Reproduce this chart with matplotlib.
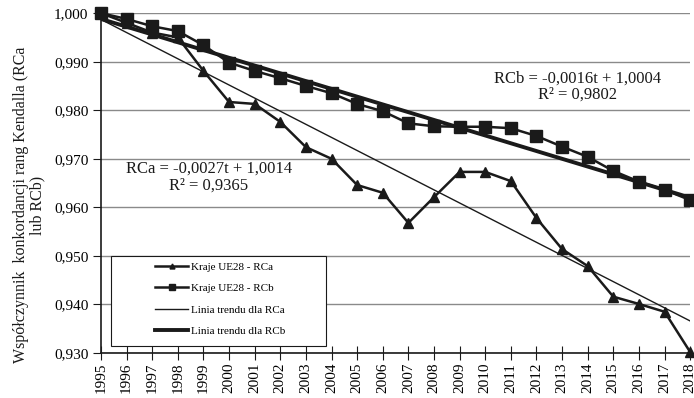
import numpy as np
import matplotlib
matplotlib.use('Agg')
import matplotlib.pyplot as plt
from matplotlib.patches import Rectangle
from matplotlib.ticker import FuncFormatter

plt.rcParams['font.family'] = ['Liberation Serif', 'DejaVu Serif']

years = list(range(1995, 2019))
rca = [1.000, 0.998, 0.996, 0.995, 0.9881, 0.9817, 0.9813, 0.9776, 0.9724, 0.9700,
       0.9646, 0.9630, 0.9568, 0.9621, 0.9673, 0.9673, 0.9654, 0.9578, 0.9514, 0.9479,
       0.9416, 0.9401, 0.9385, 0.9302]
rcb = [1.000, 0.9988, 0.9973, 0.9963, 0.9934, 0.9898, 0.9881, 0.9866, 0.9850, 0.9835,
       0.9813, 0.9798, 0.9773, 0.9767, 0.9766, 0.9766, 0.9763, 0.9747, 0.9725, 0.9704,
       0.9675, 0.9653, 0.9636, 0.9615]

# trend coefficients (t = 1 for 1995)
rca_slope, rca_icpt, rca_r2 = -0.0027, 1.0014, 0.9365
rcb_slope, rcb_icpt, rcb_r2 = -0.0016, 1.0004, 0.9802

y_ticks = [0.930, 0.940, 0.950, 0.960, 0.970, 0.980, 0.990, 1.000]

t = np.arange(1, len(years) + 1)
trend_a = rca_slope * t + rca_icpt
trend_b = rcb_slope * t + rcb_icpt

fig = plt.figure(figsize=(6.94, 3.98), dpi=100)
ax = fig.add_axes([0.1455, 0.113, 0.849, 0.854])

ink = '#1a1a1a'
for y in y_ticks:
    ax.axhline(y, color='#8a8a8a', linewidth=1.0, zorder=0)

ax.plot(years, rca, color=ink, linewidth=1.8, marker='^', markersize=6.5,
        label='Kraje UE28 - RCa', zorder=4, clip_on=False)
ax.plot(years, rcb, color=ink, linewidth=1.8, marker='s', markersize=8.5,
        label='Kraje UE28 - RCb', zorder=4, clip_on=False)
ax.plot(years, trend_a, color=ink, linewidth=1.0, label='Linia trendu dla RCa', zorder=3)
ax.plot(years, trend_b, color=ink, linewidth=2.8, label='Linia trendu dla RCb', zorder=3)

fmt = lambda v: str(v).replace('.', ',')
ax.text(2013.6, 0.9849, f'RCb = {fmt(rcb_slope)}t + {fmt(rcb_icpt)}\nR² = {fmt(rcb_r2)}',
        ha='center', va='center', fontsize=12, color=ink, linespacing=1.05)
ax.text(1999.2, 0.9662, f'RCa = {fmt(rca_slope)}t + {fmt(rca_icpt)}\nR² = {fmt(rca_r2)}',
        ha='center', va='center', fontsize=12, color=ink, linespacing=1.05)

ax.set_xlim(1995, 2018)
ax.set_ylim(0.930, 1.000)
ax.set_xticks(years)
ax.set_xticklabels([str(y) for y in years], rotation=90, fontsize=11)
ax.set_yticks(y_ticks)
ax.yaxis.set_major_formatter(FuncFormatter(lambda v, p: f'{v:.3f}'.replace('.', ',')))
ax.tick_params(axis='y', labelsize=11, length=6, color=ink, pad=3)
ax.tick_params(axis='x', direction='inout', length=10, color=ink, pad=2)

for side in ['top', 'right']:
    ax.spines[side].set_visible(False)
for side in ['left', 'bottom']:
    ax.spines[side].set_color(ink)
    ax.spines[side].set_linewidth(1.2)

fig.text(0.042, 0.485, 'Współczynnik  konkordancji rang Kendalla (RCa\nlub RCb)',
         rotation=90, ha='center', va='center', fontsize=11.5, color=ink,
         linespacing=1.0, multialignment='center')

# legend box drawn separately so its padding can be wider than tall
ax.add_patch(Rectangle((0.017, 0.0206), 0.365, 0.264, transform=ax.transAxes,
                       facecolor='white', edgecolor=ink, linewidth=0.8, zorder=4.5))
leg = ax.legend(loc='upper left', bbox_to_anchor=(0.0917, 0.268), fontsize=8,
                frameon=False, handlelength=3.0, labelspacing=1.05, borderpad=0,
                markerscale=0.55, handletextpad=0.2, borderaxespad=0)
leg.set_zorder(5)

fig.savefig('out.png', dpi=100)
